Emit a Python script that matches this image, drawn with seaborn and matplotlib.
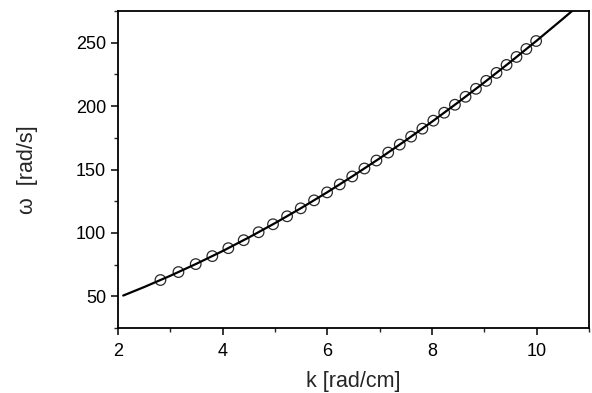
import matplotlib
matplotlib.use("Agg")
import matplotlib.pyplot as plt
from matplotlib.ticker import MultipleLocator
import seaborn as sns
import pandas as pd

# Measured points (k [rad/cm], omega [rad/s])
k_meas = [2.811, 3.155, 3.485, 3.802, 4.108, 4.402, 4.687, 4.962, 5.231, 5.492,
          5.747, 5.995, 6.238, 6.476, 6.709, 6.938, 7.163, 7.384, 7.601, 7.816,
          8.026, 8.233, 8.438, 8.641, 8.840, 9.036, 9.233, 9.425, 9.615, 9.803, 9.990]
w_meas = [62.83, 69.12, 75.40, 81.68, 87.96, 94.25, 100.53, 106.81, 113.10, 119.38,
          125.66, 131.95, 138.23, 144.51, 150.80, 157.08, 163.36, 169.65, 175.93, 182.21,
          188.50, 194.78, 201.06, 207.35, 213.63, 219.91, 226.19, 232.48, 238.76, 245.04, 251.33]

# Fitted curve
k_fit = [2.1, 2.5, 3.0, 3.5, 4.0, 4.5, 5.0, 5.5, 6.0, 6.5, 7.0, 7.5, 8.0, 8.5, 9.0,
         9.5, 10.0, 10.5, 11.0]
w_fit = [50.6, 57.3, 66.2, 75.7, 85.7, 96.4, 107.7, 119.6, 132.1, 145.2, 158.8,
         173.0, 187.7, 203.0, 218.7, 234.9, 251.6, 268.8, 286.4]

x_ticks = [2, 4, 6, 8, 10]
y_ticks = [50, 100, 150, 200, 250]

sns.set_style("ticks")
plt.rcParams["font.family"] = ["Liberation Sans", "DejaVu Sans"]

fig = plt.figure(figsize=(5.92, 3.93), dpi=100)
ax = fig.add_axes([118 / 592, 1 - 328 / 393, (589 - 118) / 592, (328 - 11) / 393])

df_fit = pd.DataFrame({"k": k_fit, "w": w_fit})
df_meas = pd.DataFrame({"k": k_meas, "w": w_meas})

sns.lineplot(data=df_fit, x="k", y="w", ax=ax, color="black", linewidth=1.6,
             sort=False, estimator=None, zorder=3)
sns.scatterplot(data=df_meas, x="k", y="w", ax=ax, marker="o", s=58,
                facecolor="none", edgecolor="#2a2a2a", linewidth=0.9, zorder=2)

ax.set_xlim(2, 11)
ax.set_ylim(25, 275)
ax.set_xticks(x_ticks)
ax.set_yticks(y_ticks)
ax.xaxis.set_minor_locator(MultipleLocator(1))
ax.yaxis.set_minor_locator(MultipleLocator(25))
ax.tick_params(which="major", direction="out", length=5, width=1.1, labelsize=13,
               colors="black", pad=3.5)
ax.tick_params(axis="x", which="major", pad=6)
ax.tick_params(which="minor", direction="out", length=3, width=1.0)
for s in ax.spines.values():
    s.set_linewidth(1.3)
    s.set_color("black")

ax.set_xlabel("k [rad/cm]", fontsize=15.5, labelpad=8)
ax.set_ylabel("ω  [rad/s]", fontsize=15.5, labelpad=27)

fig.savefig("out.png", dpi=100)
